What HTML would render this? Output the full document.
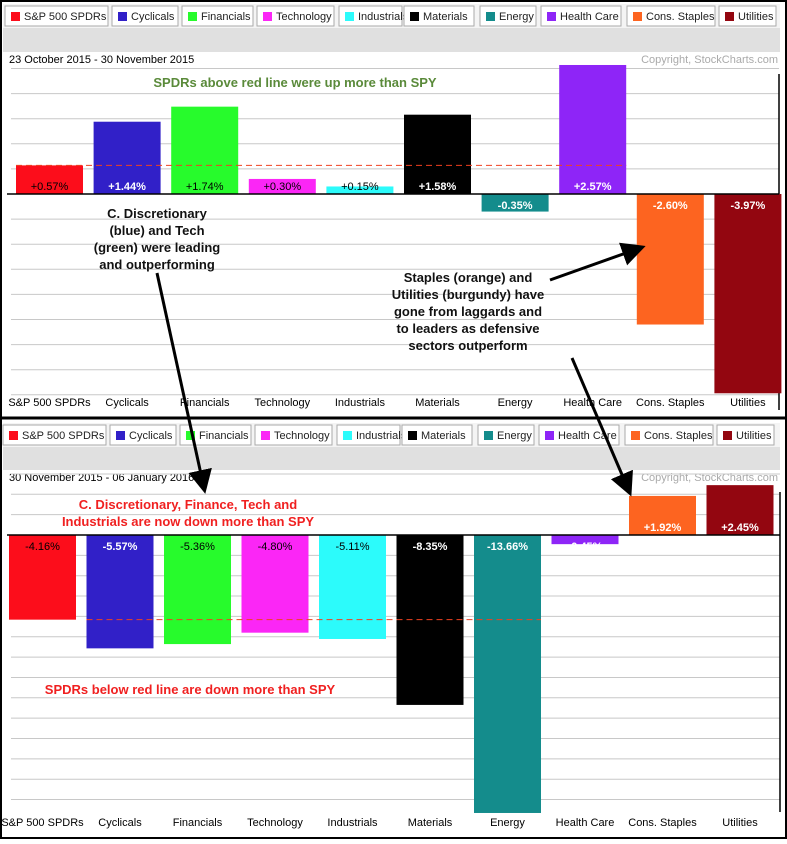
<!DOCTYPE html>
<html><head><meta charset="utf-8">
<style>
html,body{margin:0;padding:0;background:#fff}
body{width:787px;height:839px;overflow:hidden;font-family:"Liberation Sans",sans-serif}
</style></head>
<body>
<svg id="c" width="787" height="839" xmlns="http://www.w3.org/2000/svg" font-family="Liberation Sans, sans-serif"></svg>
<script>
const categories=["S&P 500 SPDRs","Cyclicals","Financials","Technology","Industrials","Materials","Energy","Health Care","Cons. Staples","Utilities"];
const colors=["#fc0d1b","#3120c8","#27fb2c","#fb26f6","#2cfbfb","#000000","#148c8c","#8e25f7","#fd6420","#930610"];
const textColors=["#000","#fff","#000","#000","#000","#fff","#fff","#fff","#fff","#fff"];
const period1Values=[0.57,1.44,1.74,0.30,0.15,1.58,-0.35,2.57,-2.60,-3.97];
const period2Values=[-4.16,-5.57,-5.36,-4.80,-5.11,-8.35,-13.66,-0.45,1.92,2.45];
const period1Label="23 October 2015 - 30 November 2015";
const period2Label="30 November 2015 - 06 January 2016";

const svg=document.getElementById('c');
const NS="http://www.w3.org/2000/svg";
function mk(tag,attrs,parent){const e=document.createElementNS(NS,tag);for(const k in attrs)e.setAttribute(k,attrs[k]);(parent||svg).appendChild(e);return e;}
function txt(s,attrs,parent){const e=mk('text',attrs,parent);e.textContent=s;return e;}

const legendBoxes=[[5,103],[112,66],[182,71],[257,77],[339,63],[404,70],[480,56],[541,80],[627,88],[719,57]];

function panel(p){
  const g=mk('g',{});
  
  
  mk('rect',{x:3,y:p.top,width:777,height:p.bandH,fill:'#e0e0e0'},g);
  mk('rect',{x:3,y:p.top,width:777,height:24,fill:'#f4f4f4'},g);
  categories.forEach((c,i)=>{
    const lx=legendBoxes[i][0]+p.legendShift, w=legendBoxes[i][1];
    const b=mk('g',{},g);
    
    
    mk('rect',{x:lx,y:p.top+2,width:w,height:20,fill:'#fff',stroke:'#aaa'},b);
    mk('rect',{x:lx+6,y:p.top+8,width:9,height:9,fill:colors[i]},b);
    txt(c,{x:lx+19,y:p.top+16,'font-size':11,fill:'#222'},b);
  });
  mk('rect',{x:3,y:p.plotTop,width:777,height:p.plotBottom-p.plotTop,fill:'#fff'},g);
  const t=txt(p.label,{x:9,y:p.plotTop+11,'font-size':11,fill:'#000'},g);
  
  txt('Copyright, StockCharts.com',{x:778,y:p.plotTop+11,'font-size':11,fill:'#aaa','text-anchor':'end'},g);
  const y=v=>p.zero-v*p.scale;
  for(let v=p.gmin;v<=p.gmax+1e-9;v+=p.gstep){
    const yy=y(v); if(Math.abs(v)<1e-9) continue;
    mk('line',{x1:11,x2:p.rightX,y1:yy,y2:yy,stroke:'#c8c8c8','stroke-width':1},g);
  }
  mk('line',{x1:p.rightX,x2:p.rightX,y1:p.plotTop+22,y2:p.plotBottom,stroke:'#000','stroke-width':1.5},g);
  const xs=i=>p.x0+i*p.slot;
  p.values.forEach((v,i)=>{
    const yt=Math.min(y(v),p.zero),h=Math.abs(y(v)-p.zero);
    const r=mk('rect',{x:xs(i),y:yt,width:67,height:h,fill:colors[i]},g);
    
    const s=(v>0?'+':'')+v.toFixed(2)+'%';
    const ly=v>=0?p.zero-4:p.zero+15;
    txt(s,{x:xs(i)+33.5,y:ly,'font-size':11,'text-anchor':'middle',fill:textColors[i],'font-weight':textColors[i]=='#fff'?'bold':'normal'},g);
    const xl=txt(categories[i],{x:xs(i)+33.5,y:p.catY,'font-size':11,'text-anchor':'middle',fill:'#000'},g);
    
  });
  mk('line',{x1:7,x2:p.rightX,y1:p.zero,y2:p.zero,stroke:'#000','stroke-width':1.5},g);
  mk('line',{x1:xs(p.refFrom),x2:xs(p.refTo)+67,y1:y(p.values[0]),y2:y(p.values[0]),stroke:'#f04020','stroke-width':1,'stroke-dasharray':'6,4'},g);
}
panel({name:'top-panel',top:4,bandH:48,legendShift:0,plotTop:52,plotBottom:410,label:period1Label,zero:194,scale:50.2,gmin:-4,gmax:2.5,gstep:0.5,rightX:779,x0:16,slot:77.6,values:period1Values,catY:406,refFrom:0,refTo:7});
panel({name:'bottom-panel',top:423,bandH:47,legendShift:-2,plotTop:470,plotBottom:812,label:period2Label,zero:535,scale:20.35,gmin:-13,gmax:3,gstep:1,rightX:780,x0:9,slot:77.5,values:period2Values,catY:826,refFrom:1,refTo:6});
mk('rect',{x:1,y:1,width:785,height:837,fill:'none',stroke:'#000','stroke-width':2});
mk('line',{x1:0,x2:787,y1:418,y2:418,stroke:'#000','stroke-width':3});
function ann(lines,x,y0,color,size,name){const t=mk('text',{x:x,y:y0,'font-size':size,'font-weight':'bold',fill:color,'text-anchor':'middle'});lines.forEach((l,i)=>{const ts=mk('tspan',{x:x,dy:i?17:0},t);ts.textContent=l;});}
ann(["SPDRs above red line were up more than SPY"],295,87,'#5a8a3a',13,'top-annotation');
ann(["C. Discretionary","(blue) and Tech","(green) were leading","and outperforming"],157,218,'#111',13,'discretionary-note');
ann(["Staples (orange) and","Utilities (burgundy) have","gone from laggards and","to leaders as defensive","sectors outperform"],468,282,'#111',13,'staples-note');
ann(["C. Discretionary, Finance, Tech and","Industrials are now down more than SPY"],188,509,'#f02020',13,'bottom-annotation');
ann(["SPDRs below red line are down more than SPY"],190,694,'#f02020',13,'bottom-annotation-2');
mk('defs',{}).innerHTML='<marker id="ah" markerWidth="8" markerHeight="8" refX="6" refY="4" orient="auto"><path d="M0,0 L8,4 L0,8 z" fill="#000"/></marker>';
mk('line',{x1:157,y1:273,x2:204,y2:488,stroke:'#000','stroke-width':3,'marker-end':'url(#ah)'});
mk('line',{x1:550,y1:280,x2:640,y2:248,stroke:'#000','stroke-width':3,'marker-end':'url(#ah)'});
mk('line',{x1:572,y1:358,x2:629,y2:491,stroke:'#000','stroke-width':3,'marker-end':'url(#ah)'});
</script>
</body></html>
